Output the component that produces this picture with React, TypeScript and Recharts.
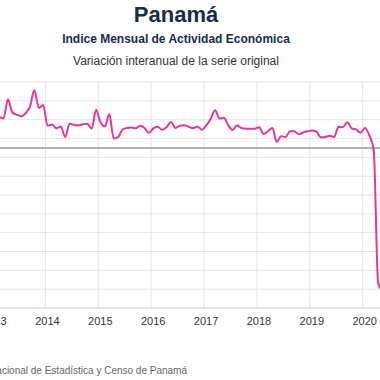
import React from "react";
import { LineChart, Line, XAxis, YAxis, CartesianGrid, ReferenceLine } from "recharts";

// Monthly series, Jan 2013 .. May 2020 (year-on-year variation, chart units)
const months: string[] = [
  "2013-01","2013-02","2013-03","2013-04","2013-05","2013-06","2013-07","2013-08","2013-09","2013-10","2013-11","2013-12",
  "2014-01","2014-02","2014-03","2014-04","2014-05","2014-06","2014-07","2014-08","2014-09","2014-10","2014-11","2014-12",
  "2015-01","2015-02","2015-03","2015-04","2015-05","2015-06","2015-07","2015-08","2015-09","2015-10","2015-11","2015-12",
  "2016-01","2016-02","2016-03","2016-04","2016-05","2016-06","2016-07","2016-08","2016-09","2016-10","2016-11","2016-12",
  "2017-01","2017-02","2017-03","2017-04","2017-05","2017-06","2017-07","2017-08","2017-09","2017-10","2017-11","2017-12",
  "2018-01","2018-02","2018-03","2018-04","2018-05","2018-06","2018-07","2018-08","2018-09","2018-10","2018-11","2018-12",
  "2019-01","2019-02","2019-03","2019-04","2019-05","2019-06","2019-07","2019-08","2019-09","2019-10","2019-11","2019-12",
  "2020-01","2020-02","2020-03","2020-04","2020-05",
];

const variation: number[] = [
  8.6, 8.2, 7.8, 12.9, 9.4, 8.8, 8.4, 9.2, 11.0, 15.3, 10.6, 11.4,
  5.9, 6.2, 5.2, 5.7, 2.9, 6.5, 6.1, 6.0, 6.3, 6.4, 5.1, 10.1,
  6.8, 5.7, 9.0, 2.5, 2.9, 4.9, 5.3, 5.4, 5.2, 5.9, 5.3, 4.0,
  5.2, 5.6, 4.8, 5.5, 6.9, 5.3, 5.9, 6.0, 5.6, 5.2, 5.7, 4.8,
  6.0, 7.7, 10.0, 7.8, 8.0, 6.0, 4.8, 6.0, 5.3, 5.1, 5.1, 5.1,
  5.5, 3.7, 4.4, 5.3, 1.6, 3.1, 2.9, 4.4, 4.4, 3.6, 4.1, 4.4,
  4.6, 4.3, 2.8, 2.9, 3.2, 2.9, 5.6, 5.5, 6.8, 5.2, 4.9, 4.0,
  5.3, 3.3, -0.6, -35.9, -38.0,
];

const yearTicks: number[] = [0, 12, 24, 36, 48, 60, 72, 84];
const firstYear = 2013;
const yTicks: number[] = [-42.5, -37.5, -32.5, -27.5, -22.5, -17.5, -12.5, -7.5, -2.5, 2.5, 7.5, 12.5, 17.5];

const data = months.map((m, i) => ({ label: m, t: i + 0.5, v: variation[i] }));

const FONT = "'Liberation Sans', Arial, Helvetica, sans-serif";

export default function App() {
  return (
    <div
      style={{
        position: "absolute",
        left: 0,
        top: 0,
        width: 380,
        height: 380,
        overflow: "hidden",
        background: "#ffffff",
      }}
    >
      <div style={{ position: "absolute", left: -40, top: 0 }}>
        <LineChart
          width={460}
          height={380}
          data={data}
          margin={{ top: 82, right: 0, left: 0, bottom: 0 }}
        >
          <CartesianGrid stroke="#e4e4e4" strokeWidth={1} />
          <XAxis
            dataKey="t"
            type="number"
            domain={[-7.379, 97.0]}
            allowDataOverflow
            ticks={yearTicks}
            interval={0}
            height={72}
            tickFormatter={(t: number) => String(firstYear + Math.round(t / 12))}
            tickLine={false}
            tickSize={0}
            tickMargin={9}
            axisLine={{ stroke: "#d6d6d6" }}
            tick={{ fill: "#333333", fontSize: 11, fontFamily: FONT, dx: 2 }}
          />
          <YAxis
            hide
            type="number"
            domain={[-42.5, 17.5]}
            ticks={yTicks}
            interval={0}
            allowDataOverflow
          />
          <ReferenceLine y={0} stroke="#b0b0b0" strokeWidth={2} />
          <Line
            type="monotone"
            dataKey="v"
            stroke="#e6369d"
            strokeWidth={2}
            dot={false}
            isAnimationActive={false}
          />
        </LineChart>
      </div>
      <svg
        width={380}
        height={380}
        style={{ position: "absolute", left: 0, top: 0, pointerEvents: "none" }}
      >
        <text x={176} y={22} textAnchor="middle" fontFamily={FONT} fontWeight="bold" fontSize={22} fill="#1a2a4a">
          Panamá
        </text>
        <text x={176} y={42.5} textAnchor="middle" fontFamily={FONT} fontWeight="bold" fontSize={12} fill="#1a2a4a">
          Indice Mensual de  Actividad Económica
        </text>
        <text x={176} y={64.5} textAnchor="middle" fontFamily={FONT} fontSize={12} fill="#333333">
          Variación interanual de la serie original
        </text>
        <text x={187} y={374} textAnchor="end" fontFamily={FONT} fontSize={10} fill="#666666">
          Fuente: Instituto Nacional de Estadística y Censo de Panamá
        </text>
      </svg>
    </div>
  );
}
